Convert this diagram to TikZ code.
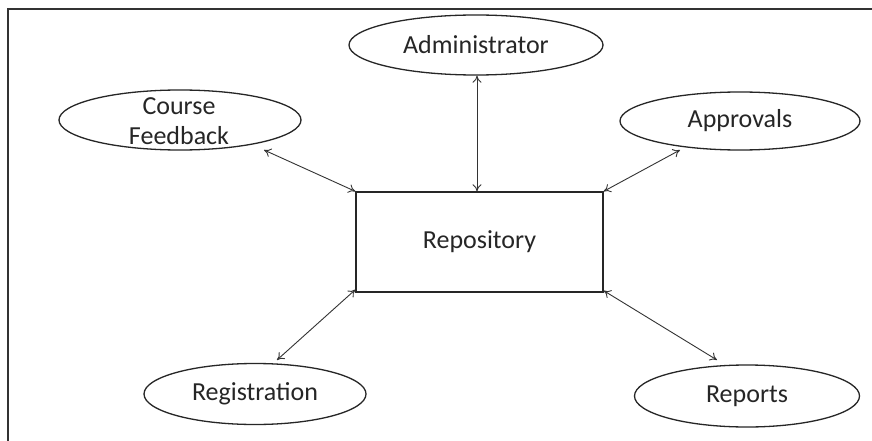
\documentclass[tikz,border=0pt]{standalone}
\usepackage{fontspec}
\setmainfont{Carlito}
\usetikzlibrary{shapes.geometric,arrows.meta}
\begin{document}
\begin{tikzpicture}[x=1pt,y=-1pt,
  role/.style={draw=black!85,line width=1.3pt,ellipse,inner sep=0pt,
    font=\fontsize{26}{30}\selectfont,text=black!85,align=center},
  store/.style={draw=black!85,line width=1.3pt,rectangle,inner sep=0pt,
    font=\fontsize{26}{30}\selectfont,text=black!85},
  link/.style={draw=black!80,line width=0.9pt,
    {To[length=7pt,width=9pt]}-{To[length=7pt,width=9pt]}}]
  \useasboundingbox (0,0) rectangle (872,441);
  \fill[white] (0,0) rectangle (872,441);
  % page frame (top and left edges)
  \draw[black!80,line width=1.5pt] (872,9) -- (8,9) -- (8,441);

  % central store
  \node[store,minimum width=247pt,minimum height=100pt] (repo) at (479.5,242) {Repository};

  % surrounding roles
  \node[role,minimum width=254pt,minimum height=60pt] (admin) at (476,45) {Administrator};
  \node[role,minimum width=242pt,minimum height=60pt] (fb) at (180,120) {};
  \node[font=\fontsize{26}{30}\selectfont,text=black!85,align=center,inner sep=0pt] (fbtext) at (179,121) {Course\\Feedback};
  \node[role,minimum width=240pt,minimum height=58pt] (appr) at (740,121) {Approvals};
  \node[role,minimum width=222pt,minimum height=61pt] (reg) at (255,394) {Registration};
  \node[role,minimum width=225pt,minimum height=62pt] (rep) at (747,396) {Reports};

  % arrow end points beside the roles
  \coordinate (fbend) at (264,150);
  \coordinate (apprend) at (680,150);
  \coordinate (regend) at (277,360);
  \coordinate (repend) at (717,360);

  % connectors
  \draw[link] (admin.south -| 477,0) -- (repo.north -| 477,0);
  \draw[link] (fbend) -- (repo.north west);
  \draw[link] (apprend) -- (repo.north east);
  \draw[link] (regend) -- ([yshift=3pt]repo.south west);
  \draw[link] (repend) -- ([yshift=2pt]repo.south east);
\end{tikzpicture}
\end{document}
